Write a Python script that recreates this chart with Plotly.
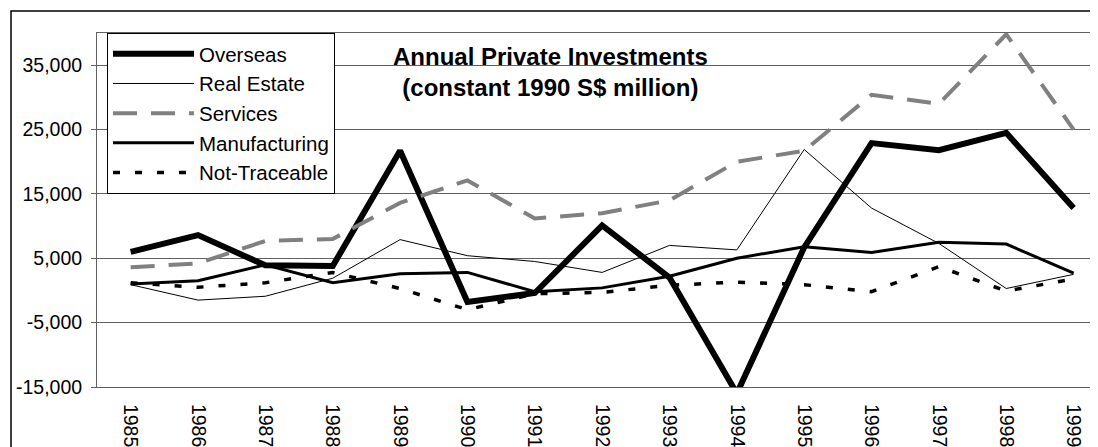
import plotly.graph_objects as go

# Annual private investments, constant 1990 S$ million
years = [str(y) for y in range(1985, 2000)]
overseas = [6000, 8600, 3900, 3800, 21700, -1800, -400, 10100, 2000, -16000,
            6700, 22900, 21800, 24500, 12800]
real_estate = [900, -1500, -900, 1900, 7900, 5400, 4500, 2800, 7000, 6300,
               21900, 12800, 7300, 300, 2500]
services = [3600, 4200, 7700, 8000, 13600, 17100, 11200, 12000, 14000, 20000,
            21700, 30400, 29000, 39800, 25000]
manufacturing = [1000, 1500, 4000, 1200, 2600, 2800, -200, 400, 2200, 5000,
                 6800, 5900, 7500, 7200, 2700]
not_traceable = [1200, 500, 1200, 2800, 300, -3000, -500, -300, 800, 1300,
                 900, -200, 3700, -100, 1800]

y_ticks = [-15000, -5000, 5000, 15000, 25000, 35000]
y_ticktext = ['-15,000', '-5,000', '5,000', '15,000', '25,000', '35,000']

# the page body has an 8px margin, so the figure is shrunk by that much
PAGE = 8
W, H = 1098 - PAGE, 447 - PAGE
M_L, M_R, M_T, M_B = 97 - PAGE, 0, 33 - PAGE, 60
Y_MIN, Y_MAX = -15000, 40000

series = [
    ('Overseas', overseas, dict(color='black', width=6)),
    ('Real Estate', real_estate, dict(color='black', width=1)),
    ('Services', services, dict(color='#808080', width=4, dash='24px,14px')),
    ('Manufacturing', manufacturing, dict(color='black', width=3)),
    ('Not-Traceable', not_traceable, dict(color='black', width=3.5, dash='7px,15px')),
]

fig = go.Figure()
for name, vals, line in series:
    fig.add_trace(go.Scatter(x=years, y=vals, mode='lines', name=name,
                             line=line))

font = 'Liberation Sans, Arial, sans-serif'
plot_w = W - M_L - M_R
plot_h = H - M_T - M_B
zero_pos = (0 - Y_MIN) / (Y_MAX - Y_MIN)
x_range = [-0.5, 14 + (1098 - 1073.6) / 67.36]

fig.update_layout(
    width=W, height=H,
    margin=dict(l=M_L, r=M_R, t=M_T, b=M_B, autoexpand=False),
    paper_bgcolor='white', plot_bgcolor='white',
    font=dict(family=font, color='black'),
    showlegend=True,
    legend=dict(
        x=(107 - 97) / plot_w, y=1, xanchor='left', yanchor='top',
        bgcolor='white', bordercolor='black', borderwidth=1,
        font=dict(size=20.5, family=font), itemwidth=81,
        tracegroupgap=0,
    ),
    xaxis=dict(
        type='category', range=x_range, showgrid=False, zeroline=False,
        showline=True, linecolor='#606060', linewidth=1, mirror=True,
        ticks='', tickangle=90, tickfont=dict(size=19.5, family=font),
        ticklabelstandoff=12, automargin=False,
    ),
    xaxis2=dict(
        overlaying='x', anchor='free', position=zero_pos, range=x_range,
        tick0=0.5, dtick=1, ticks='outside', ticklen=6, tickcolor='black',
        showticklabels=False, showgrid=False, zeroline=False,
        showline=True, linecolor='black', linewidth=1,
    ),
    yaxis=dict(
        range=[Y_MIN, Y_MAX], tickvals=y_ticks, ticktext=y_ticktext,
        showgrid=True, gridcolor='#606060', gridwidth=1, zeroline=False,
        showline=True, linecolor='#606060', linewidth=1,
        ticks='outside', ticklen=5, tickcolor='#606060', ticklabelstandoff=5,
        tickfont=dict(size=19.5, family=font), automargin=False,
    ),
    annotations=[dict(
        text='<b>Annual Private Investments</b><br><b>(constant 1990 S$ million)</b>',
        xref='paper', yref='paper', x=(550 - 97) / plot_w,
        y=1 - (72 - 33) / plot_h, xanchor='center', yanchor='middle',
        showarrow=False, font=dict(size=24, family=font), align='center',
    )],
    shapes=[dict(
        type='rect', xref='paper', yref='paper', layer='above',
        x0=(11 - 97) / plot_w, y0=-0.5, x1=1.2, y1=1 + (33 - 11) / plot_h,
        line=dict(color='black', width=1.5),
    )],
)

fig.write_html('out.html')
